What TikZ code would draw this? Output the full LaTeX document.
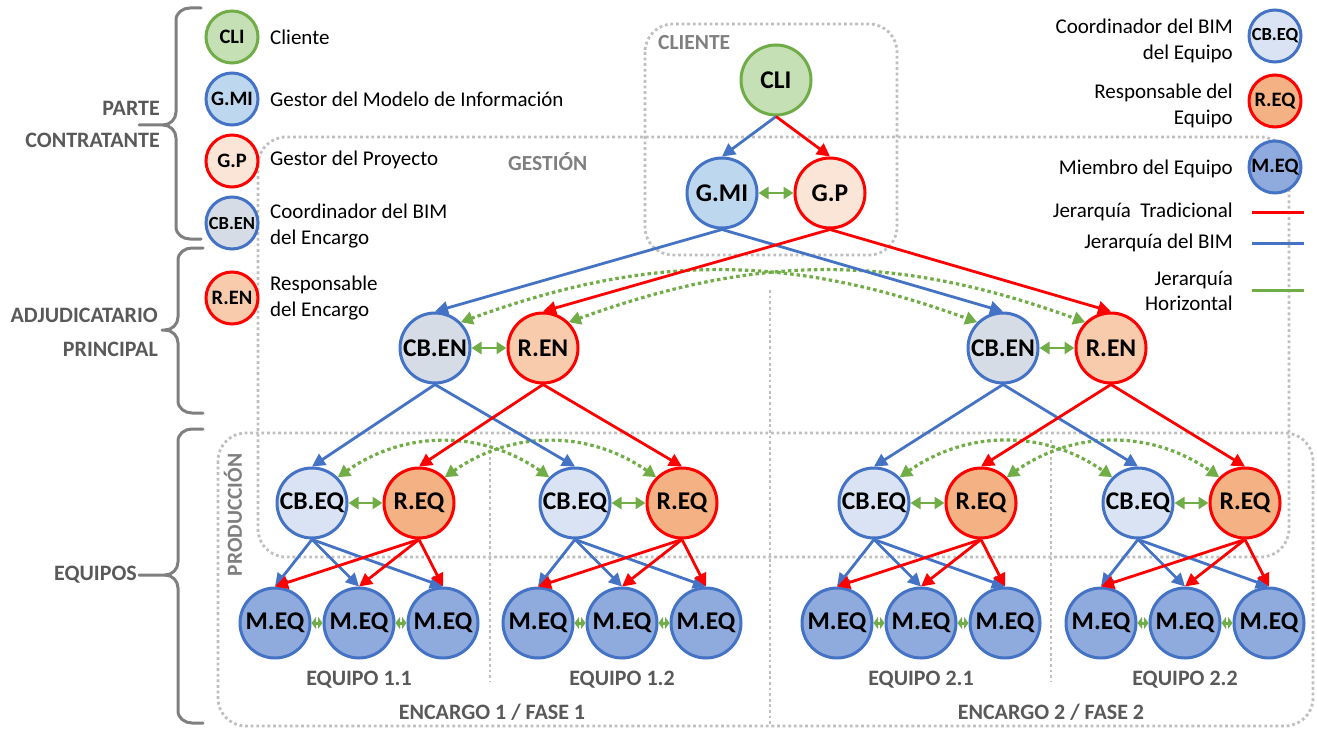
\documentclass[tikz,border=0pt]{standalone}
\usepackage{fontspec}
\setmainfont{Carlito}
\usetikzlibrary{arrows.meta}
\definecolor{cblue}{HTML}{4472C4}
\definecolor{cred}{HTML}{FF0000}
\definecolor{cgreen}{HTML}{70AD47}
\definecolor{fcli}{HTML}{C5E0B4}
\definecolor{fgmi}{HTML}{BDD7EE}
\definecolor{fgp}{HTML}{FBE5D6}
\definecolor{fcben}{HTML}{D6DCE5}
\definecolor{fren}{HTML}{F8CBAD}
\definecolor{fcbeq}{HTML}{DAE3F3}
\definecolor{freq}{HTML}{F4B183}
\definecolor{fmeq}{HTML}{8FAADC}
\definecolor{dgray}{HTML}{595959}
\definecolor{mgray}{HTML}{7F7F7F}
\definecolor{lgray}{HTML}{BFBFBF}
\begin{document}
\begin{tikzpicture}[x=1pt,y=-1pt,
  big/.style={circle, minimum size=70pt, inner sep=0pt, line width=3pt, text=black, font=\fontsize{25.5}{30}\selectfont\bfseries},
  small/.style={circle, minimum size=52pt, inner sep=0pt, line width=3pt, text=black, font=\fontsize{20.5}{24}\selectfont\bfseries},
  smallcb/.style={small, font=\fontsize{18.5}{22}\selectfont\bfseries},
  cli/.style={draw=cgreen, fill=fcli},
  gmi/.style={draw=cblue, fill=fgmi},
  gp/.style={draw=cred, fill=fgp},
  cben/.style={draw=cblue, fill=fcben},
  ren/.style={draw=cred, fill=fren},
  cbeq/.style={draw=cblue, fill=fcbeq},
  reqs/.style={draw=cred, fill=freq},
  meq/.style={draw=cblue, fill=fmeq},
  bim/.style={draw=cblue, line width=2.8pt, -{Triangle[length=13pt,width=13pt]}},
  trad/.style={draw=cred, line width=2.8pt, -{Triangle[length=13pt,width=13pt]}},
  hor/.style={draw=cgreen, line width=2.8pt, {Triangle[length=10pt,width=12pt]}-{Triangle[length=10pt,width=12pt]}},
  mhor/.style={draw=cgreen, line width=3pt, {Triangle[length=4.5pt,width=12pt]}-{Triangle[length=4.5pt,width=12pt]}},
  hdot/.style={draw=cgreen, line width=3.2pt, dash pattern=on 3.5pt off 3pt, {Triangle[length=12pt,width=13pt]}-{Triangle[length=12pt,width=13pt]}},
  zbox/.style={draw=lgray, line width=2.8pt, dash pattern=on 2.8pt off 2.8pt, rounded corners=28pt},
  vdiv/.style={draw=lgray, line width=2.8pt, dash pattern=on 2.8pt off 2.8pt},
  brc/.style={draw=mgray, line width=3pt, line join=round, line cap=round},
  leg/.style={font=\fontsize{21}{25.5}\selectfont, align=left, inner sep=0pt, anchor=west, text=black},
  legr/.style={font=\fontsize{21}{25.5}\selectfont, align=right, inner sep=0pt, anchor=east, text=black},
  hdr/.style={font=\fontsize{22}{27}\selectfont\bfseries, text=dgray, inner sep=0pt},
  zone/.style={font=\fontsize{21.5}{25}\selectfont\bfseries, text=mgray, inner sep=0pt}
]
\useasboundingbox (0,0) rectangle (1317,733);

% zones
\draw[zbox] (645,24) rectangle (897,255);
\draw[zbox] (258,137) rectangle (1289,557);
\draw[zbox] (218,433) rectangle (1313,726);
\draw[vdiv] (770,290) -- (770,726);
\draw[vdiv] (490,440) -- (490,682);
\draw[vdiv] (1051,440) -- (1051,682);
\node[zone, anchor=west] (zcli) at (658,43) {CLIENTE};
\node[zone, anchor=west] (zges) at (508,162) {GESTIÓN};
\node[zone, rotate=90] (zpro) at (233,515) {PRODUCCIÓN};

% braces
\draw[brc] (201,8) -- (190,8) to[out=180,in=90] (176,20) -- (176,112) to[out=270,in=0] (163,125) -- (139,125);
\draw[brc] (201,239) -- (190,239) to[out=180,in=270] (176,227) -- (176,138) to[out=90,in=0] (163,125);
\draw[brc] (203,248) -- (192,248) to[out=180,in=90] (178,260) -- (178,317) to[out=270,in=0] (165,330) -- (162,330);
\draw[brc] (203,413) -- (192,413) to[out=180,in=270] (178,401) -- (178,343) to[out=90,in=0] (165,330);
\draw[brc] (203,429) -- (192,429) to[out=180,in=90] (178,441) -- (178,562) to[out=270,in=0] (165,575) -- (139,575);
\draw[brc] (203,723) -- (192,723) to[out=180,in=270] (178,711) -- (178,588) to[out=90,in=0] (165,575);
\node[hdr, anchor=east] (bp1) at (160,108) {PARTE};
\node[hdr, anchor=east] (bp2) at (160,140) {CONTRATANTE};
\node[hdr, anchor=east] (ba1) at (158,315) {ADJUDICATARIO};
\node[hdr, anchor=east] (ba2) at (158,349) {PRINCIPAL};
\node[hdr, anchor=east] (beq) at (137,575) {EQUIPOS};

% left legend
\node[small, cli] (lcli) at (232,37) {CLI};
\node[small, gmi] (lgmi) at (232,99) {G.MI};
\node[small, gp] (lgp) at (232,161) {G.P};
\node[smallcb, cben] (lcben) at (232,223) {CB.EN};
\node[small, ren] (lren) at (232,298) {R.EN};
\node[leg] (tcli) at (270,37) {Cliente};
\node[leg] (tgmi) at (270,99) {Gestor del Modelo de Información};
\node[leg] (tgp) at (270,160) {Gestor del Proyecto};
\node[leg] (tcben) at (270,226) {Coordinador del BIM\\del Encargo};
\node[leg] (tren) at (270,298) {Responsable\\del Encargo};

% right legend
\node[smallcb, cbeq] (lcbeq) at (1275,36) {CB.EQ};
\node[small, reqs] (lreq) at (1275,101) {R.EQ};
\node[small, meq] (lmeq) at (1275,167) {M.EQ};
\node[legr] (tcbeq) at (1233,41) {Coordinador del BIM\\del Equipo};
\node[legr] (treq) at (1233,106) {Responsable del\\Equipo};
\node[legr] (tmeq) at (1233,169) {Miembro del Equipo};
\node[legr] (ttrad) at (1233,212) {Jerarquía~ Tradicional};
\node[legr] (tbim) at (1233,243) {Jerarquía del BIM};
\node[legr] (thor) at (1233,291) {Jerarquía\\Horizontal};
\coordinate (r1a) at (1252,212); \coordinate (r1b) at (1304,212);
\coordinate (r2a) at (1252,243); \coordinate (r2b) at (1304,243);
\coordinate (r3a) at (1252,290); \coordinate (r3b) at (1304,290);
\draw[draw=cred, line width=3pt] (r1a) -- (r1b);
\draw[draw=cblue, line width=3pt] (r2a) -- (r2b);
\draw[draw=cgreen, line width=3pt] (r3a) -- (r3b);

% main tree
\node[big, cli] (cli) at (776,80) {CLI};
\node[big, gmi] (gmi) at (722,193) {G.MI};
\node[big, gp] (gp) at (830,193) {G.P};
\node[big, cben] (cbenA) at (435,348) {CB.EN};
\node[big, ren] (renA) at (543,348) {R.EN};
\node[big, cben] (cbenB) at (1003,348) {CB.EN};
\node[big, ren] (renB) at (1111,348) {R.EN};
\foreach \t/\m in {a/359, b/622, c/921, d/1185} {
  \node[big, cbeq] (cbeq\t) at (\m-47,503) {CB.EQ};
  \node[big, reqs] (req\t) at (\m+60,503) {R.EQ};
  \node[big, meq] (m\t1) at (\m-84,623) {M.EQ};
  \node[big, meq] (m\t2) at (\m,623) {M.EQ};
  \node[big, meq] (m\t3) at (\m+84,623) {M.EQ};
}

% dotted horizontal hierarchy
\draw[hdot] (cbenA.north east) to[out=20,in=160] (cbenB.north west);
\draw[hdot] (renA.north east) to[out=20,in=160] (renB.north west);
\draw[hdot] (cbeqa.north east) to[out=35,in=145] (cbeqb.north west);
\draw[hdot] (reqa.north east) to[out=35,in=145] (reqb.north west);
\draw[hdot] (cbeqc.north east) to[out=35,in=145] (cbeqd.north west);
\draw[hdot] (reqc.north east) to[out=35,in=145] (reqd.north west);

% edges
\draw[bim] (cli.south) -- (gmi.north);
\draw[trad] (cli.south) -- (gp.north);
\draw[hor] (gmi.east) -- (gp.west);
\draw[bim] (gmi.south) -- (cbenA.north);
\draw[bim] (gmi.south) -- (cbenB.north);
\draw[trad] (gp.south) -- (renA.north);
\draw[trad] (gp.south) -- (renB.north);
\draw[hor] (cbenA.east) -- (renA.west);
\draw[hor] (cbenB.east) -- (renB.west);
\draw[bim] (cbenA.south) -- (cbeqa.north);
\draw[bim] (cbenA.south) -- (cbeqb.north);
\draw[bim] (cbenB.south) -- (cbeqc.north);
\draw[bim] (cbenB.south) -- (cbeqd.north);
\draw[trad] (renA.south) -- (reqa.north);
\draw[trad] (renA.south) -- (reqb.north);
\draw[trad] (renB.south) -- (reqc.north);
\draw[trad] (renB.south) -- (reqd.north);
\foreach \t in {a,b,c,d} {
  \draw[hor] (cbeq\t.east) -- (req\t.west);
  \foreach \k in {1,2,3} {
    \draw[bim] (cbeq\t.south) -- (m\t\k.north);
  }
  \foreach \k in {1,2,3} {
    \draw[trad] (req\t.south) -- (m\t\k.north);
  }
  \draw[mhor] (m\t1.east) -- (m\t2.west);
  \draw[mhor] (m\t2.east) -- (m\t3.west);
}

% group labels
\node[hdr] (e11) at (359,680) {EQUIPO 1.1};
\node[hdr] (e12) at (622,680) {EQUIPO 1.2};
\node[hdr] (e21) at (921,680) {EQUIPO 2.1};
\node[hdr] (e22) at (1185,680) {EQUIPO 2.2};
\node[hdr] (en1) at (492,712) {ENCARGO 1 / FASE 1};
\node[hdr] (en2) at (1051,712) {ENCARGO 2 / FASE 2};
\end{tikzpicture}
\end{document}
